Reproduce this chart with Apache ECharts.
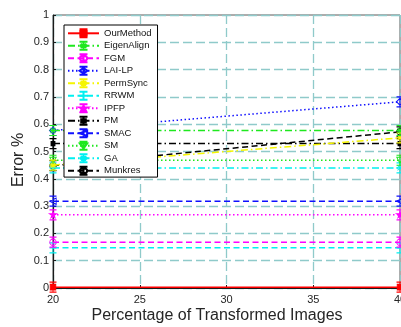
<!DOCTYPE html>
<html>
<head>
<meta charset="utf-8">
<script src="https://cdn.jsdelivr.net/npm/echarts@6/dist/echarts.min.js"></script>
<style>
  html, body { margin: 0; padding: 0; background: #fff; }
  #chart { width: 401px; height: 327px; }
</style>
</head>
<body>
<div id="chart"></div>
<script>
// Percentage of transformed images (x) and error rate per method
const xValues = [20, 40];
const methodNames = ['OurMethod', 'EigenAlign', 'FGM', 'LAI-LP', 'PermSync', 'RRWM',
                     'IPFP', 'PM', 'SMAC', 'SM', 'GA', 'Munkres'];
const ourMethod  = [0.003, 0.003];
const eigenAlign = [0.577, 0.577];
const fgm        = [0.168, 0.168];
const laiLp      = [0.577, 0.682];
const permSync   = [0.450, 0.550];
const rrwm       = [0.147, 0.147];
const ipfp       = [0.268, 0.268];
const pm         = [0.529, 0.529];
const smac       = [0.318, 0.318];
const sm         = [0.468, 0.468];
const ga         = [0.440, 0.440];
const munkres    = [0.448, 0.572];
const xTicks = [20, 25, 30, 35, 40];

// Marker glyphs: an error bar (I shape) plus the method's marker
const BAR = 'M0.5 0.5 H7.5 M4 0.5 V10.5 M0.5 10.5 H7.5 ';
const MARK = {
  square:   'M1.2 2.7 H6.8 V8.3 H1.2 Z',
  circle:   'M0.8 5.5 A3.2 3.2 0 1 1 7.2 5.5 A3.2 3.2 0 1 1 0.8 5.5 Z',
  diamond:  'M4 2 L7.5 5.5 L4 9 L0.5 5.5 Z',
  asterisk: 'M0.5 5.5 H7.5 M1.5 3 L6.5 8 M1.5 8 L6.5 3',
  plus:     'M0.5 5.5 H7.5',
  star:     'M4 2 L6.06 8.33 L0.67 4.42 L7.33 4.42 L1.94 8.33 Z',
  dot:      'M2 3.5 H6 V7.5 H2 Z',
  left:     'M0.8 5.5 L7.2 2.3 L7.2 8.7 Z',
  down:     'M0.8 2.5 H7.2 L4 8.8 Z'
};

const DASH = [6, 3.5];
const DOT = [1.5, 2.5];
const DASHDOT = [7, 3, 1.5, 3];

const styles = [
  { data: ourMethod,  color: '#ff0000', line: 'solid', mark: 'square',   filled: true  },
  { data: eigenAlign, color: '#1ee81e', line: DASHDOT, mark: 'asterisk', filled: false },
  { data: fgm,        color: '#ff00ff', line: DASH,    mark: 'circle',   filled: false },
  { data: laiLp,      color: '#1010ff', line: DOT,     mark: 'diamond',  filled: false },
  { data: permSync,   color: '#f5f500', line: DASHDOT, mark: 'asterisk', filled: false },
  { data: rrwm,       color: '#00f0f0', line: DASH,    mark: 'plus',     filled: false },
  { data: ipfp,       color: '#ff00ff', line: DOT,     mark: 'star',     filled: true  },
  { data: pm,         color: '#000000', line: DASHDOT, mark: 'dot',      filled: true  },
  { data: smac,       color: '#1010ff', line: DASH,    mark: 'left',     filled: false },
  { data: sm,         color: '#1ee81e', line: DOT,     mark: 'down',     filled: false },
  { data: ga,         color: '#00f0f0', line: DASHDOT, mark: 'asterisk', filled: false },
  { data: munkres,    color: '#000000', line: DASH,    mark: 'circle',   filled: false }
];

const series = styles.map(function (s, i) {
  return {
    name: methodNames[i],
    type: 'line',
    clip: false,
    data: xValues.map(function (x, j) { return [x, s.data[j]]; }),
    symbol: 'path://' + BAR + MARK[s.mark],
    symbolSize: [7, 10],
    showAllSymbol: true,
    lineStyle: { color: s.color, width: 1.5, type: s.line },
    itemStyle: {
      color: s.filled ? s.color : 'rgba(0,0,0,0)',
      borderColor: s.color,
      borderWidth: 1
    },
    emphasis: { disabled: true },
    z: 3 + (styles.length - i) * 0.01
  };
});

const gridColor = '#8fcaca';
const chart = echarts.init(document.getElementById('chart'), null, { renderer: 'canvas' });
chart.setOption({
  animation: false,
  backgroundColor: '#ffffff',
  textStyle: { fontFamily: 'Liberation Sans, Arial, sans-serif' },
  grid: {
    left: 53, right: 1, top: 15, bottom: 39,
    outerBoundsMode: 'none',
    containLabel: false,
    show: true, borderColor: '#5a5a5a', borderWidth: 1, backgroundColor: 'transparent'
  },
  xAxis: {
    type: 'value', min: xTicks[0], max: xTicks[xTicks.length - 1], interval: 5,
    axisLine: { show: true, onZero: false, lineStyle: { color: '#1a1a1a', width: 1.2 } },
    axisTick: { show: true, inside: true, length: 3, lineStyle: { color: '#1a1a1a' } },
    axisLabel: { color: '#262626', fontSize: 11, margin: 6, fontFamily: 'Liberation Sans' },
    splitLine: { show: true, lineStyle: { color: gridColor, width: 1.3, type: [9, 4] } }
  },
  yAxis: {
    type: 'value', min: 0, max: 1, interval: 0.1,
    axisLine: { show: true, lineStyle: { color: '#1a1a1a', width: 1.2 } },
    axisTick: { show: true, inside: true, length: 3, lineStyle: { color: '#1a1a1a' } },
    axisLabel: { color: '#262626', fontSize: 11, margin: 4, fontFamily: 'Liberation Sans' },
    splitLine: { show: true, lineStyle: { color: gridColor, width: 1.3, type: [9, 4] } }
  },
  legend: {
    orient: 'vertical',
    left: 64, top: 25,
    data: methodNames,
    itemWidth: 31, itemHeight: 10, itemGap: 2.5,
    padding: [3.3, 6, 1.3, 3],
    backgroundColor: '#ffffff',
    borderColor: '#000000', borderWidth: 1,
    textStyle: { color: '#111111', fontSize: 9.5, fontFamily: 'Liberation Sans' },
    selectedMode: false
  },
  graphic: [
    {
      type: 'text', x: 19, y: 160, rotation: Math.PI / 2,
      style: { text: 'Error %', fill: '#262626', font: '16px "Liberation Sans", Arial, sans-serif',
               align: 'center', verticalAlign: 'middle' }
    },
    {
      type: 'text', x: 217, y: 316,
      style: { text: 'Percentage of Transformed Images', fill: '#262626',
               font: '16px "Liberation Sans", Arial, sans-serif',
               align: 'center', verticalAlign: 'middle' }
    }
  ],
  series: series
});
</script>
</body>
</html>
